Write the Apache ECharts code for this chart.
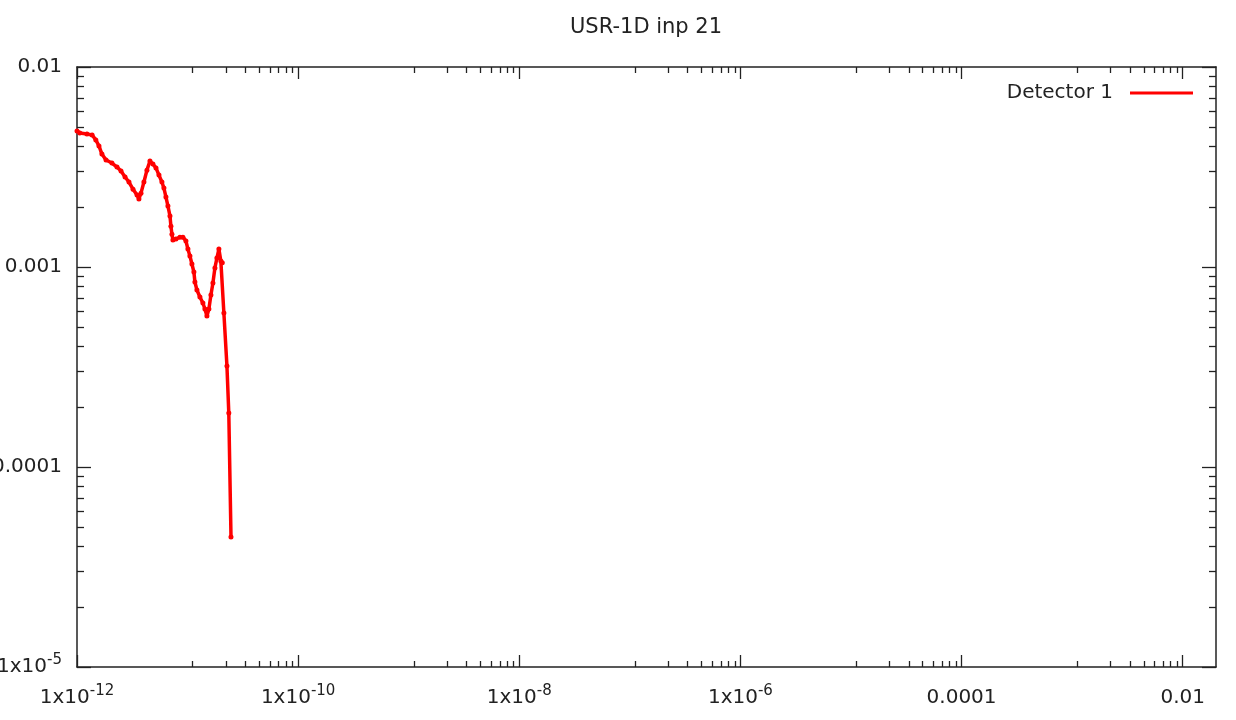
<!DOCTYPE html>
<html>
<head>
<meta charset="utf-8">
<script src="https://cdn.jsdelivr.net/npm/echarts@6/dist/echarts.min.js"></script>
<style>html,body{margin:0;padding:0;background:#fff}#c{width:1236px;height:720px}</style>
</head>
<body>
<div id="c"></div>
<script>
// ---- data ----
const seriesName = 'Detector 1';
const xValues = [1.00e-12,1.06e-12,1.23e-12,1.37e-12,1.48e-12,1.58e-12,1.68e-12,1.83e-12,2.07e-12,2.30e-12,
  2.50e-12,2.72e-12,2.95e-12,3.21e-12,3.49e-12,3.63e-12,3.79e-12,4.03e-12,4.29e-12,4.57e-12,
  4.86e-12,5.18e-12,5.51e-12,5.86e-12,6.11e-12,6.37e-12,6.64e-12,6.93e-12,7.07e-12,7.22e-12,
  7.37e-12,7.85e-12,8.53e-12,9.08e-12,9.66e-12,1.007e-11,1.05e-11,1.095e-11,1.141e-11,1.165e-11,
  1.215e-11,1.293e-11,1.376e-11,1.435e-11,1.496e-11,1.559e-11,1.626e-11,1.695e-11,1.767e-11,1.842e-11,
  1.92e-11,2.00e-11,2.06e-11,2.13e-11,2.27e-11,2.36e-11,2.47e-11];
const yValues = [4.79e-3,4.68e-3,4.62e-3,4.57e-3,4.32e-3,4.03e-3,3.67e-3,3.43e-3,3.31e-3,3.16e-3,
  3.02e-3,2.82e-3,2.66e-3,2.45e-3,2.29e-3,2.19e-3,2.34e-3,2.66e-3,3.05e-3,3.39e-3,
  3.27e-3,3.13e-3,2.88e-3,2.66e-3,2.48e-3,2.24e-3,2.02e-3,1.80e-3,1.60e-3,1.46e-3,
  1.365e-3,1.38e-3,1.41e-3,1.41e-3,1.35e-3,1.23e-3,1.135e-3,1.035e-3,9.44e-4,8.41e-4,
  7.67e-4,7.08e-4,6.61e-4,6.17e-4,5.69e-4,6.17e-4,7.24e-4,8.32e-4,9.89e-4,1.109e-3,
  1.23e-3,1.07e-3,1.05e-3,5.89e-4,3.20e-4,1.86e-4,4.47e-5];
const xMajorTicks = [1e-12, 1e-10, 1e-8, 1e-6, 1e-4, 1e-2];
const yMajorTicks = [1e-5, 1e-4, 1e-3, 1e-2];
const xRange = [1e-12, 0.02];
const yRange = [1e-5, 0.01];

// minor tick positions (gnuplot style)
const xMinorTicks = [];
for (let i = 0; i < xMajorTicks.length - 1; i++) {
  for (let k = 1; k <= 8; k++) xMinorTicks.push(xMajorTicks[i] * 100 * k / 9);
}
const yMinorTicks = [];
for (let i = 0; i < yMajorTicks.length - 1; i++) {
  for (let k = 2; k <= 9; k++) yMinorTicks.push(yMajorTicks[i] * k);
}

const FONT = 'DejaVu Sans';
const TXT = '#222';
const rich = {
  m: {fontFamily: FONT, fontSize: 20, color: TXT, lineHeight: 28},
  s: {fontFamily: FONT, fontSize: 15, color: TXT, lineHeight: 28, verticalAlign: 'top'}
};
function fmt(v) {
  const e = Math.round(Math.log10(v));
  if (e >= -4) return '{m|' + Math.pow(10, e).toFixed(-e) + '}';
  return '{m|1x10}{s|' + e + '}';
}

const data = xValues.map((x, i) => [x, yValues[i]]);
const lineCol = '#222';

function xAxisDef(pos, ticks, len, showLine, showLabel) {
  return {
    type: 'log', min: xRange[0], max: xRange[1], position: pos,
    axisLine: {show: showLine, onZero: false, lineStyle: {color: lineCol, width: 1.5}},
    axisTick: {show: true, inside: true, length: len, customValues: ticks, lineStyle: {color: lineCol, width: 1.3}},
    axisLabel: {show: showLabel, customValues: ticks, margin: 17, formatter: fmt, rich: rich},
    splitLine: {show: false}, minorTick: {show: false}
  };
}
function yAxisDef(pos, ticks, len, showLine, showLabel) {
  return {
    type: 'log', min: yRange[0], max: yRange[1], position: pos,
    axisLine: {show: showLine, onZero: false, lineStyle: {color: lineCol, width: 1.5}},
    axisTick: {show: true, inside: true, length: len, customValues: ticks, lineStyle: {color: lineCol, width: 1.3}},
    axisLabel: {show: showLabel, customValues: ticks, margin: 15, formatter: fmt, rich: rich},
    splitLine: {show: false}, minorTick: {show: false}
  };
}

const chart = echarts.init(document.getElementById('c'), null, {renderer: 'canvas'});
chart.setOption({
  animation: false,
  backgroundColor: '#fff',
  title: {
    text: 'USR-1D inp 21', left: 565, top: 12,
    textStyle: {fontFamily: FONT, fontSize: 21, fontWeight: 'normal', color: TXT}
  },
  legend: {
    data: [seriesName], right: 38, top: 78, align: 'right', icon: 'rect',
    itemWidth: 63, itemHeight: 3,
    textStyle: {fontFamily: FONT, fontSize: 20, color: TXT, padding: [0, 12, 0, 0]}
  },
  grid: {left: 77, right: 20, top: 67, bottom: 53, containLabel: false, outerBoundsMode: 'none'},
  xAxis: [
    xAxisDef('bottom', xMajorTicks, 12, true, true),
    xAxisDef('bottom', xMinorTicks, 6, false, false),
    xAxisDef('top', xMajorTicks, 12, true, false),
    xAxisDef('top', xMinorTicks, 6, false, false)
  ],
  yAxis: [
    yAxisDef('left', yMajorTicks, 14, true, true),
    yAxisDef('left', yMinorTicks, 7, false, false),
    yAxisDef('right', yMajorTicks, 14, true, false),
    yAxisDef('right', yMinorTicks, 7, false, false)
  ],
  series: [{
    name: seriesName, type: 'line', xAxisIndex: 0, yAxisIndex: 0,
    data: data, symbol: 'circle', symbolSize: 5, showSymbol: true,
    lineStyle: {color: '#ff0000', width: 3.5}, itemStyle: {color: '#ff0000'},
    clip: true
  }]
});
</script>
</body>
</html>
